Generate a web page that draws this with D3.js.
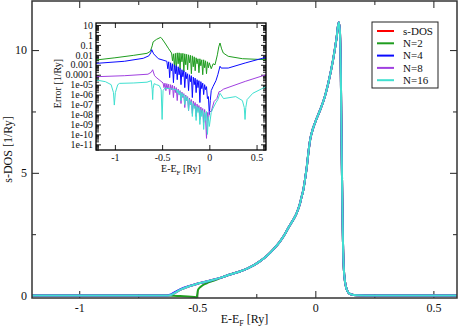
<!DOCTYPE html>
<html>
<head>
<meta charset="utf-8">
<script src="https://cdn.jsdelivr.net/npm/d3@7"></script>
<style>
  body { margin: 0; background: #fff; }
  svg { display: block; }
  svg text { font-family: "Liberation Serif", "DejaVu Serif", serif; }
</style>
</head>
<body>
<script>
// General constants
const WIDTH = 459;
const HEIGHT = 329;
const FONT = "'Liberation Serif', 'DejaVu Serif', serif";

/**
 * Main panel data: s-DOS [1/Ry] on one energy grid E-E_F [Ry]
 */
const dosE = [-1.2, -0.8, -0.63, -0.615, -0.6, -0.573, -0.54, -0.503, -0.497, -0.49,
              -0.48, -0.46, -0.432, -0.4, -0.361, -0.32, -0.291, -0.26, -0.234, -0.205,
              -0.178, -0.15, -0.128, -0.11, -0.093, -0.079, -0.065, -0.058, -0.051, -0.044,
              -0.036, -0.029, -0.022, -0.01, 0.005, 0.02, 0.04, 0.055, 0.075, 0.09,
              0.099, 0.104, 0.108, 0.112, 0.116, 0.12, 0.126, 0.132, 0.14, 0.15,
              0.175, 0.25, 0.6];
const dosRef = [0, 0, 0, 0.01, 0.08, 0.23, 0.36, 0.47, 0.49, 0.51,
                0.53, 0.57, 0.64, 0.73, 0.86, 0.98, 1.09, 1.24, 1.4, 1.62,
                1.88, 2.2, 2.52, 2.83, 3.1, 3.36, 3.75, 4.03, 4.3, 4.71,
                5.25, 5.85, 6.34, 6.8, 7.2, 7.55, 8.1, 8.66, 9.6, 10.5,
                11.13, 10.8, 9.0, 5.5, 2.7, 1.2, 0.55, 0.28, 0.12, 0.05,
                0.01, 0, 0];
const dosN2 = [0, 0, 0, 0, -0.01, -0.02, -0.04, -0.07, 0.22, 0.32,
               0.4, 0.5, 0.6, 0.72, 0.86, 0.98, 1.09, 1.24, 1.4, 1.62,
               1.88, 2.2, 2.52, 2.83, 3.1, 3.36, 3.75, 4.03, 4.3, 4.71,
               5.25, 5.85, 6.34, 6.8, 7.2, 7.55, 8.1, 8.66, 9.6, 10.5,
               11.13, 10.8, 9.0, 5.5, 2.7, 1.2, 0.55, 0.28, 0.12, 0.05,
               0.01, 0, 0];
const dosN4 = [0, 0, 0, 0.03, 0.11, 0.25, 0.37, 0.47, 0.49, 0.51,
               0.53, 0.57, 0.64, 0.73, 0.86, 0.98, 1.09, 1.24, 1.4, 1.62,
               1.88, 2.2, 2.52, 2.83, 3.1, 3.36, 3.75, 4.03, 4.3, 4.71,
               5.25, 5.85, 6.34, 6.8, 7.2, 7.55, 8.1, 8.66, 9.6, 10.5,
               11.13, 10.8, 9.0, 5.5, 2.7, 1.2, 0.55, 0.28, 0.12, 0.05,
               0.01, 0, 0];
const dosN8 = [0, 0, 0, 0.01, 0.08, 0.23, 0.36, 0.47, 0.49, 0.51,
               0.53, 0.57, 0.64, 0.73, 0.86, 0.98, 1.09, 1.24, 1.4, 1.62,
               1.88, 2.2, 2.52, 2.83, 3.1, 3.36, 3.75, 4.03, 4.3, 4.71,
               5.25, 5.85, 6.34, 6.8, 7.2, 7.55, 8.1, 8.66, 9.6, 10.5,
               11.13, 10.8, 9.0, 5.5, 2.7, 1.2, 0.55, 0.28, 0.12, 0.05,
               0.01, 0, 0];
const dosN16 = [0, 0, 0, 0.01, 0.08, 0.23, 0.36, 0.47, 0.49, 0.51,
                0.53, 0.57, 0.64, 0.73, 0.86, 0.98, 1.09, 1.24, 1.4, 1.62,
                1.88, 2.2, 2.52, 2.83, 3.1, 3.36, 3.75, 4.03, 4.3, 4.71,
                5.25, 5.85, 6.34, 6.8, 7.2, 7.55, 8.1, 8.66, 9.6, 10.5,
                11.13, 10.8, 9.0, 5.5, 2.7, 1.2, 0.55, 0.28, 0.12, 0.05,
                0.01, 0, 0];

const seriesNames = ["s-DOS", "N=2", "N=4", "N=8", "N=16"];
const seriesColors = ["#ff0000", "#1f9d1f", "#0a0aff", "#a040e0", "#40e0d0"];

const xTicks = [-1, -0.5, 0, 0.5];
const xMinor = [-0.75, -0.25, 0.25];
const yTicks = [0, 5, 10];
const yMinor = [2.5, 7.5];

/**
 * Inset data: error [1/Ry], stored as [E-E_F, log10(error)]
 */
const errN2 = [[-1.2,-2.52],[-1.0,-2.3],[-0.8,-2.05],[-0.66,-1.85],[-0.625,-1.65],[-0.605,-1.1],[-0.595,-0.7],
  [-0.56,-0.45],[-0.515,-0.24],[-0.5,-0.4],[-0.47,-0.81],[-0.43,-1.4],[-0.4,-1.82],
  [-0.39,-2.6],[-0.38,-1.9],[-0.37,-3.2],[-0.36,-1.85],[-0.35,-3.6],[-0.34,-1.8],[-0.33,-2.9],[-0.32,-1.8],
  [-0.31,-3.4],[-0.3,-1.85],[-0.29,-2.7],[-0.28,-1.85],[-0.27,-3.7],[-0.26,-1.9],[-0.25,-3.0],[-0.24,-1.95],
  [-0.23,-3.5],[-0.22,-2.0],[-0.21,-2.8],[-0.2,-2.05],[-0.19,-3.9],[-0.18,-2.1],[-0.17,-3.2],[-0.16,-2.2],
  [-0.15,-3.6],[-0.14,-2.3],[-0.13,-2.9],[-0.12,-2.4],[-0.11,-3.8],[-0.1,-2.4],[-0.09,-3.1],[-0.08,-2.5],
  [-0.07,-4.0],[-0.06,-2.5],[-0.05,-3.3],[-0.04,-2.6],[-0.03,-3.9],[-0.02,-2.7],[-0.01,-3.3],[0.0,-2.8],
  [0.02,-3.4],[0.04,-2.9],[0.06,-3.0],[0.085,-2.0],[0.1,-1.2],[0.113,-0.81],[0.13,-1.4],[0.148,-1.82],
  [0.2,-2.15],[0.35,-2.39],[0.6,-2.49]];
const errN4 = [[-1.2,-2.86],[-0.9,-2.65],[-0.7,-2.35],[-0.64,-2.1],[-0.62,-1.8],[-0.61,-1.48],[-0.59,-1.9],
  [-0.54,-2.39],[-0.45,-2.65],
  [-0.44,-3.4],[-0.43,-2.7],[-0.42,-4.3],[-0.41,-2.8],[-0.4,-3.6],[-0.39,-2.9],[-0.38,-4.8],[-0.37,-3.0],
  [-0.36,-3.9],[-0.35,-3.1],[-0.34,-4.5],[-0.33,-3.2],[-0.32,-4.0],[-0.31,-3.35],[-0.3,-5.0],[-0.29,-3.5],
  [-0.28,-4.2],[-0.27,-3.6],[-0.26,-5.3],[-0.25,-3.75],[-0.24,-4.4],[-0.23,-3.9],[-0.22,-5.6],[-0.21,-4.0],
  [-0.2,-4.7],[-0.19,-4.1],[-0.18,-6.3],[-0.17,-4.25],[-0.16,-5.0],[-0.15,-4.35],[-0.14,-5.8],[-0.13,-4.5],
  [-0.12,-5.3],[-0.11,-4.6],[-0.1,-6.8],[-0.09,-4.7],[-0.08,-5.4],[-0.07,-4.85],[-0.06,-6.0],[-0.05,-5.0],
  [-0.04,-5.5],[-0.03,-5.2],[-0.02,-6.4],[-0.01,-6.2],[0.0,-8.0],[0.01,-6.6],[0.02,-5.6],[0.04,-5.17],
  [0.07,-4.6],[0.09,-4.0],[0.113,-3.15],[0.125,-3.33],[0.2,-3.33],[0.38,-2.82],[0.6,-2.25]];
const errN8 = [[-1.2,-4.2],[-0.9,-4.1],[-0.65,-3.95],[-0.615,-3.75],[-0.6,-3.5],[-0.58,-4.1],[-0.555,-4.33],
  [-0.49,-4.83],
  [-0.48,-5.3],[-0.47,-4.85],[-0.46,-5.6],[-0.45,-4.9],[-0.44,-5.4],[-0.43,-4.95],[-0.42,-6.0],[-0.41,-5.0],
  [-0.4,-5.5],[-0.39,-5.05],[-0.38,-6.3],[-0.37,-5.15],[-0.36,-5.8],[-0.35,-5.3],[-0.34,-6.6],[-0.33,-5.45],
  [-0.32,-6.0],[-0.31,-5.6],[-0.3,-6.9],[-0.29,-5.75],[-0.28,-6.3],[-0.27,-5.9],[-0.26,-7.3],[-0.25,-6.05],
  [-0.24,-6.6],[-0.23,-6.2],[-0.22,-7.6],[-0.21,-6.35],[-0.2,-7.0],[-0.19,-6.5],[-0.18,-7.9],[-0.17,-6.65],
  [-0.16,-7.2],[-0.15,-6.8],[-0.14,-8.2],[-0.13,-6.95],[-0.12,-7.6],[-0.11,-7.1],[-0.1,-8.5],[-0.09,-7.25],
  [-0.08,-7.9],[-0.07,-7.4],[-0.06,-8.8],[-0.05,-7.5],[-0.04,-8.4],[-0.03,-10.4],[-0.02,-7.8],[-0.01,-8.6],
  [0.0,-7.7],[0.02,-7.7],[0.05,-6.7],[0.08,-6.4],[0.103,-5.7],[0.115,-5.7],[0.15,-5.45],[0.38,-4.67],[0.6,-4.0]];
const errN16 = [[-1.2,-4.53],[-1.1,-4.7],[-1.04,-5.0],[-1.015,-5.8],[-1.006,-7.05],[-0.995,-5.8],[-0.97,-5.0],
  [-0.95,-4.87],[-0.8,-4.83],[-0.66,-4.75],[-0.615,-4.6],[-0.605,-5.5],[-0.6,-6.5],[-0.595,-5.4],[-0.585,-4.9],
  [-0.56,-5.0],[-0.53,-5.1],[-0.51,-5.5],[-0.5,-8.5],[-0.49,-5.6],[-0.47,-5.34],[-0.42,-5.4],[-0.35,-5.5],
  [-0.34,-5.8],[-0.33,-5.55],[-0.32,-6.0],[-0.31,-5.7],[-0.3,-6.6],[-0.29,-5.85],[-0.28,-6.2],[-0.27,-6.0],
  [-0.26,-7.0],[-0.25,-6.15],[-0.24,-6.6],[-0.23,-6.3],[-0.22,-7.6],[-0.21,-6.5],[-0.2,-7.0],[-0.19,-6.7],
  [-0.18,-8.2],[-0.17,-6.9],[-0.16,-7.4],[-0.15,-7.1],[-0.14,-8.6],[-0.13,-7.2],[-0.12,-7.8],[-0.11,-7.3],
  [-0.1,-9.0],[-0.09,-7.5],[-0.08,-8.2],[-0.07,-7.6],[-0.06,-9.5],[-0.05,-7.8],[-0.04,-8.6],[-0.03,-7.7],
  [-0.02,-10.0],[-0.01,-8.2],[0.0,-9.2],[0.02,-7.8],[0.04,-7.35],[0.07,-6.8],[0.09,-6.5],[0.113,-5.87],
  [0.15,-6.4],[0.28,-6.2],[0.35,-6.6],[0.37,-7.3],[0.378,-8.5],[0.386,-7.3],[0.4,-6.5],[0.46,-5.87],[0.6,-5.2]];

const insetYExp = [1, 0, -1, -2, -3, -4, -5, -6, -7, -8, -9, -10, -11];
const insetYLabels = ["10", "1", "0.1", "0.01", "0.001", "0.0001", "1e-05", "1e-06",
                      "1e-07", "1e-08", "1e-09", "1e-10", "1e-11"];
const insetXTicks = [-1, -0.5, 0, 0.5];

/**
 * Set up the svg
 */
const svg = d3.select("body").append("svg")
    .attr("width", WIDTH)
    .attr("height", HEIGHT)
    .attr("font-family", FONT);

function styleAxis(sel, size) {
    sel.select(".domain").remove();
    sel.attr("font-family", FONT).attr("font-size", size);
    sel.selectAll("line").attr("stroke", "#222");
    sel.selectAll("text").attr("fill", "#111");
}

/** ---------------- main panel ---------------- */
const x = d3.scaleLinear().domain([-1.2, 0.6]).range([32, 457]);
const y = d3.scaleLinear().domain([-0.1, 12]).range([298, 1]);
const fmt = d => String(d);

const [x0, x1] = x.range();
const [y0, y1] = y.range();

// ticks on all four sides, pointing inwards
svg.append("g").attr("transform", `translate(0,${y0})`)
    .call(d3.axisBottom(x).tickValues(xTicks).tickSize(-7).tickPadding(5).tickFormat(fmt))
    .call(s => styleAxis(s, 12));
svg.append("g").attr("transform", `translate(0,${y0})`)
    .call(d3.axisBottom(x).tickValues(xMinor).tickSize(-4).tickFormat(""))
    .call(s => styleAxis(s, 12));
svg.append("g").attr("transform", `translate(0,${y1})`)
    .call(d3.axisTop(x).tickValues(xTicks).tickSize(-7).tickFormat(""))
    .call(s => styleAxis(s, 12));
svg.append("g").attr("transform", `translate(0,${y1})`)
    .call(d3.axisTop(x).tickValues(xMinor).tickSize(-4).tickFormat(""))
    .call(s => styleAxis(s, 12));
svg.append("g").attr("transform", `translate(${x0},0)`)
    .call(d3.axisLeft(y).tickValues(yTicks).tickSize(-7).tickPadding(5).tickFormat(fmt))
    .call(s => styleAxis(s, 12));
svg.append("g").attr("transform", `translate(${x0},0)`)
    .call(d3.axisLeft(y).tickValues(yMinor).tickSize(-4).tickFormat(""))
    .call(s => styleAxis(s, 12));
svg.append("g").attr("transform", `translate(${x1},0)`)
    .call(d3.axisRight(y).tickValues(yTicks).tickSize(-7).tickFormat(""))
    .call(s => styleAxis(s, 12));
svg.append("g").attr("transform", `translate(${x1},0)`)
    .call(d3.axisRight(y).tickValues(yMinor).tickSize(-4).tickFormat(""))
    .call(s => styleAxis(s, 12));

// curves
const mainSeries = [dosRef, dosN2, dosN4, dosN8, dosN16];
const mainLine = d3.line()
    .x((d, i) => x(dosE[i]))
    .y(d => y(d))
    .curve(d3.curveMonotoneX);

svg.append("g").selectAll("path")
    .data(mainSeries)
    .enter()
    .append("path")
    .attr("d", d => mainLine(d))
    .attr("fill", "none")
    .attr("stroke", (d, i) => seriesColors[i])
    .attr("stroke-width", 2)
    .attr("stroke-linejoin", "round");

// frame
svg.append("rect")
    .attr("x", x0).attr("y", y1)
    .attr("width", x1 - x0).attr("height", y0 - y1)
    .attr("fill", "none")
    .attr("stroke", "#333")
    .attr("stroke-width", 1.5);

// axis labels
const xLab = svg.append("text")
    .attr("x", (x0 + x1) / 2)
    .attr("y", 323)
    .attr("text-anchor", "middle")
    .attr("font-size", 12)
    .attr("fill", "#111");
xLab.append("tspan").text("E-E");
xLab.append("tspan").attr("font-size", 8).attr("dy", 3).text("F");
xLab.append("tspan").attr("dy", -3).text(" [Ry]");

svg.append("text")
    .attr("transform", `translate(12,${(y0 + y1) / 2}) rotate(-90)`)
    .attr("text-anchor", "middle")
    .attr("font-size", 12)
    .attr("fill", "#111")
    .text("s-DOS [1/Ry]");

/** ---------------- inset ---------------- */
const ix = d3.scaleLinear().domain([-1.2, 0.6]).range([96, 266]);
const iy = d3.scaleLog().domain([Math.pow(10, -11.57), Math.pow(10, 1.2)]).range([150, 23]);
const [ix0, ix1] = ix.range();
const [iy0, iy1] = iy.range();

svg.append("rect")
    .attr("x", ix0).attr("y", iy1)
    .attr("width", ix1 - ix0).attr("height", iy0 - iy1)
    .attr("fill", "#fff");

const yMajorVals = insetYExp.map(k => Math.pow(10, k));
const yMinorVals = [];
for (let k = -12; k <= 1; k++) {
    for (let m = 2; m <= 9; m++) {
        const v = m * Math.pow(10, k);
        if (v > iy.domain()[0] && v < iy.domain()[1]) yMinorVals.push(v);
    }
}

svg.append("g").attr("transform", `translate(${ix0},0)`)
    .call(d3.axisLeft(iy).tickValues(yMajorVals).tickSize(-5).tickPadding(3)
        .tickFormat((d, i) => insetYLabels[i]))
    .call(s => styleAxis(s, 10));
svg.append("g").attr("transform", `translate(${ix0},0)`)
    .call(d3.axisLeft(iy).tickValues(yMinorVals).tickSize(-3).tickFormat(""))
    .call(s => styleAxis(s, 10));
svg.append("g").attr("transform", `translate(${ix1},0)`)
    .call(d3.axisRight(iy).tickValues(yMajorVals).tickSize(-5).tickFormat(""))
    .call(s => styleAxis(s, 10));
svg.append("g").attr("transform", `translate(${ix1},0)`)
    .call(d3.axisRight(iy).tickValues(yMinorVals).tickSize(-3).tickFormat(""))
    .call(s => styleAxis(s, 10));
svg.append("g").attr("transform", `translate(0,${iy0})`)
    .call(d3.axisBottom(ix).tickValues(insetXTicks).tickSize(-5).tickPadding(4).tickFormat(fmt))
    .call(s => styleAxis(s, 10));
svg.append("g").attr("transform", `translate(0,${iy1})`)
    .call(d3.axisTop(ix).tickValues(insetXTicks).tickSize(-5).tickFormat(""))
    .call(s => styleAxis(s, 10));

svg.append("clipPath").attr("id", "inset-clip")
    .append("rect")
    .attr("x", ix0).attr("y", iy1)
    .attr("width", ix1 - ix0).attr("height", iy0 - iy1);

const insetSeries = [errN2, errN4, errN8, errN16];
const insetLine = d3.line()
    .x(d => ix(d[0]))
    .y(d => iy(Math.pow(10, d[1])));

svg.append("g").attr("clip-path", "url(#inset-clip)")
    .selectAll("path")
    .data(insetSeries)
    .enter()
    .append("path")
    .attr("d", d => insetLine(d))
    .attr("fill", "none")
    .attr("stroke", (d, i) => seriesColors[i + 1])
    .attr("stroke-width", 1)
    .attr("stroke-linejoin", "round");

svg.append("rect")
    .attr("x", ix0).attr("y", iy1)
    .attr("width", ix1 - ix0).attr("height", iy0 - iy1)
    .attr("fill", "none")
    .attr("stroke", "#000")
    .attr("stroke-width", 1.3);

const ixLab = svg.append("text")
    .attr("x", 181)
    .attr("y", 172)
    .attr("text-anchor", "middle")
    .attr("font-size", 10)
    .attr("fill", "#111");
ixLab.append("tspan").text("E-E");
ixLab.append("tspan").attr("font-size", 7).attr("dy", 2.5).text("F");
ixLab.append("tspan").attr("dy", -2.5).text(" [Ry]");

svg.append("text")
    .attr("transform", `translate(61,${(iy0 + iy1) / 2 - 3}) rotate(-90)`)
    .attr("text-anchor", "middle")
    .attr("font-size", 10)
    .attr("fill", "#111")
    .text("Error [1/Ry]");

/** ---------------- legend ---------------- */
const legend = svg.append("g").attr("transform", "translate(372,22)");
legend.append("rect")
    .attr("width", 66).attr("height", 66)
    .attr("fill", "#fff")
    .attr("stroke", "#222")
    .attr("stroke-width", 1);

const rows = legend.selectAll("g.row")
    .data(seriesNames)
    .enter()
    .append("g")
    .attr("class", "row")
    .attr("transform", (d, i) => `translate(0,${9 + i * 12.3})`);
rows.append("line")
    .attr("x1", 5).attr("x2", 22)
    .attr("stroke", (d, i) => seriesColors[i])
    .attr("stroke-width", 2);
rows.append("text")
    .attr("x", 31)
    .attr("dy", "0.35em")
    .attr("font-size", 11)
    .attr("fill", "#111")
    .text(d => d);
</script>
</body>
</html>
